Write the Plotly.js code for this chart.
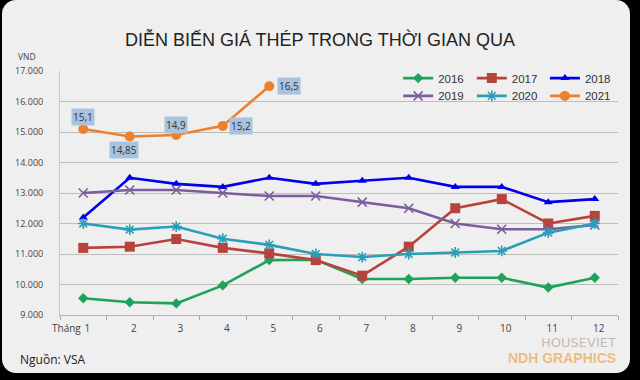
<!DOCTYPE html>
<html><head><meta charset="utf-8">
<script src="https://cdn.plot.ly/plotly-3.0.1.min.js"></script>
<style>
html,body{margin:0;padding:0;background:#000;width:640px;height:380px;overflow:hidden;}
#card{position:absolute;left:2px;top:0;width:628px;height:373px;background:#efefef;border-radius:14px;}
#chart{position:absolute;left:0;top:0;width:640px;height:380px;}
</style></head>
<body><div id="card"></div><div id="chart"></div>
<script>
const months = ["1","2","3","4","5","6","7","8","9","10","11","12"];
const years = ["2016","2017","2018","2019","2020","2021"];
const s2016 = [9550,9420,9380,9970,10800,10810,10180,10180,10220,10220,9900,10220];
const s2017 = [11200,11240,11490,11200,11020,10800,10290,11240,12500,12800,12000,12250];
const s2018 = [12200,13500,13300,13200,13500,13300,13400,13500,13200,13200,12700,12800];
const s2019 = [13000,13100,13100,13000,12900,12900,12700,12500,12000,11810,11810,11950];
const s2020 = [12000,11800,11900,11500,11300,11000,10900,11000,11050,11100,11700,12000];
const s2021 = [15100,14850,14900,15200,16500];
const colors = ["#1fa35a","#b8423c","#0000ee","#7b5f9c","#2a9fb8","#ee7f2d"];
const symbols = ["diamond","square","triangle-up","x-thin-open","asterisk-open","circle"];
const msizes = [8,10,8,9,9,10];
const series = [s2016,s2017,s2018,s2019,s2020,s2021];
const legNames = ["legend","legend2","legend3","legend4","legend5","legend6"];

const traces = series.map((s,i)=>({
  type:"scatter", mode:"lines+markers", name:years[i],
  x: months.slice(0,s.length), y:s,
  line:{color:colors[i], width:2.6},
  marker:{symbol:symbols[i], size:msizes[i], color:colors[i], line:{color:colors[i], width:(i===3||i===4)?1.6:0}},
  legend: legNames[i],
  hoverinfo:"skip"
}));

// label offsets for 2021 annotations (pixels)
const lblShift = [[0,12],[-6,-13],[0,10],[18,0],[20,0]];
const annotations = s2021.map((v,i)=>({
  x: i, y: v, xref:"x", yref:"y",
  text: String(v/1000).replace(".",","),
  showarrow:false, xshift:lblShift[i][0], yshift:lblShift[i][1],
  bgcolor:"#a9c3de", borderpad:1,
  font:{family:"Open Sans, Liberation Sans, sans-serif", size:10, color:"#333"}
}));
annotations.push(
  {xref:"paper",yref:"paper",x:-0.018,y:-0.053,xanchor:"left",yanchor:"middle",text:"Tháng",showarrow:false,
   font:{family:"Open Sans, sans-serif",size:10,color:"#444"}},
  {xref:"paper",yref:"paper",x:-0.04,y:1.03,xanchor:"right",yanchor:"bottom",text:"VND",showarrow:false,
   font:{family:"Open Sans, sans-serif",size:8.5,color:"#444"}},
  {xref:"paper",yref:"paper",x:-0.075,y:-0.14,xanchor:"left",yanchor:"top",text:"Nguồn: VSA",showarrow:false,
   font:{family:"Open Sans, sans-serif",size:12,color:"#222"}},
  {xref:"paper",yref:"paper",x:1.0,y:-0.075,xanchor:"right",yanchor:"top",text:"HOUSEVIET",showarrow:false,
   font:{family:"DejaVu Sans, sans-serif",size:13,color:"rgba(160,140,120,0.55)"}},
  {xref:"paper",yref:"paper",x:1.0,y:-0.135,xanchor:"right",yanchor:"top",text:"<b>NDH GRAPHICS</b>",showarrow:false,
   font:{family:"Liberation Sans, sans-serif",size:14,color:"rgba(235,160,60,0.65)"}}
);

const legX = [0.606,0.738,0.869,0.606,0.738,0.869];
const legY = [0.971,0.971,0.971,0.898,0.898,0.898];
const legBase = {orientation:"h", bgcolor:"rgba(0,0,0,0)",
  font:{family:"Liberation Sans, Arial, sans-serif", size:11.5, color:"#333"}, itemwidth:30,
  xanchor:"left", yanchor:"middle"};

const layout = {
  width:640, height:380,
  paper_bgcolor:"rgba(0,0,0,0)", plot_bgcolor:"rgba(0,0,0,0)",
  margin:{l:60, r:22, t:71, b:65, autoexpand:false},
  separators:",.",
  title:{text:"DIỄN BIẾN GIÁ THÉP TRONG THỜI GIAN QUA", x:0.5, xanchor:"center", y:0.895, yanchor:"middle",
    font:{family:"Liberation Sans, Arial, sans-serif", size:18, color:"#222"}},
  xaxis:{type:"category", range:[-0.5,11.5], tickson:"boundaries", ticks:"outside", ticklen:4, tickcolor:"#aaa",
    showline:true, linecolor:"#b5b5b5", linewidth:1, showgrid:false, ticklabelshift:4, ticklabelstandoff:4,
    tickfont:{family:"Open Sans, sans-serif", size:10, color:"#444"}, fixedrange:true, automargin:false},
  yaxis:{range:[9000,17000], dtick:1000, tickformat:",d", showgrid:true, gridcolor:"#bdbdbd", gridwidth:1,
    showline:true, linecolor:"#c8c8c8", zeroline:false, ticks:"", ticklabelstandoff:14,
    tickfont:{family:"Open Sans, sans-serif", size:9, color:"#444"}, fixedrange:true, automargin:false},
  showlegend:true,
  annotations:annotations
};
legNames.forEach((n,i)=>{ layout[n] = Object.assign({}, legBase, {x:legX[i], y:legY[i]}); });
Plotly.newPlot("chart", traces, layout, {displayModeBar:false, staticPlot:true});
</script></body></html>
